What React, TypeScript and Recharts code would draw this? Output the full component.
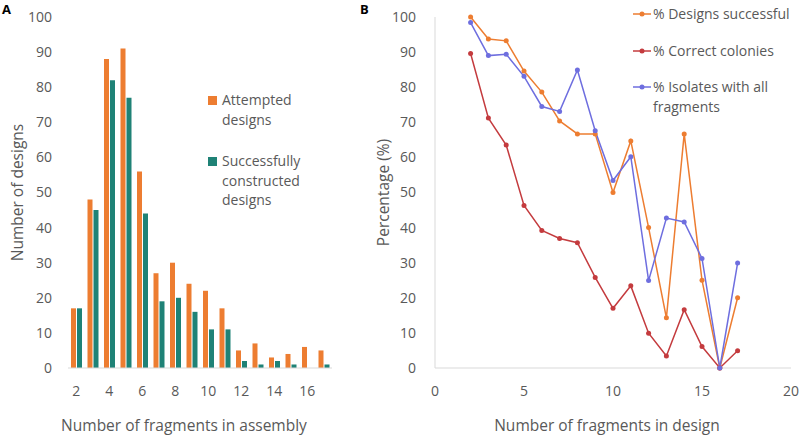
import React from 'react';
import { BarChart, Bar, XAxis, YAxis, LineChart, Line, Legend, Label } from 'recharts';

const fragmentCounts = [2, 3, 4, 5, 6, 7, 8, 9, 10, 11, 12, 13, 14, 15, 16, 17];
const attemptedDesigns = [17, 48, 88, 91, 56, 27, 30, 24, 22, 17, 5, 7, 3, 4, 6, 5];
const successfulDesigns = [17, 45, 82, 77, 44, 19, 20, 16, 11, 11, 2, 1, 2, 1, 0, 1];

const pctDesignsSuccessful = [100, 93.75, 93.2, 84.6, 78.6, 70.4, 66.7, 66.7, 50, 64.7, 40, 14.3, 66.7, 25, 0, 20];
const pctCorrectColonies = [89.6, 71.2, 63.5, 46.3, 39.2, 36.9, 35.7, 25.8, 17, 23.4, 9.9, 3.4, 16.6, 6.1, 0, 4.9];
const pctIsolatesAll = [98.4, 89, 89.4, 83.1, 74.5, 73.1, 84.9, 67.6, 53.4, 60.2, 24.9, 42.7, 41.6, 31.2, 0, 29.9];

const barSeriesNames = ['Attempted designs', 'Successfully constructed designs'];
const lineSeriesNames = ['% Designs successful', '% Correct colonies', '% Isolates with all fragments'];

const countTicks = [0, 10, 20, 30, 40, 50, 60, 70, 80, 90, 100];
const percentTicks = [0, 10, 20, 30, 40, 50, 60, 70, 80, 90, 100];
const designTicks = [0, 5, 10, 15, 20];

const barData = fragmentCounts.map((n, i) => ({
  n,
  attempted: attemptedDesigns[i],
  successful: successfulDesigns[i],
}));

const lineData = fragmentCounts.map((n, i) => ({
  n,
  designs: pctDesignsSuccessful[i],
  colonies: pctCorrectColonies[i],
  isolates: pctIsolatesAll[i],
}));

const TEXT = '#595959';
const GRID = '#D9D9D9';
const ORANGE = '#ED7D31';
const TEAL = '#1F8276';
const RED = '#C43B3E';
const BLUE = '#6E6EDF';
const FONT = '"Open Sans", sans-serif';

const yTitle = (text: string, cx: number) => (props: any) => {
  const vb = props.viewBox || {};
  const cy = vb.y + vb.height / 2;
  return (
    <text
      x={cx}
      y={cy}
      transform={`rotate(-90, ${cx}, ${cy})`}
      textAnchor="middle"
      dominantBaseline="central"
      fill={TEXT}
      fontSize={15.5}
      fontFamily={FONT}
    >
      {text}
    </text>
  );
};

const xTitle = (text: string, cy: number, dx: number) => (props: any) => {
  const vb = props.viewBox || {};
  const cx = vb.x + vb.width / 2 + dx;
  return (
    <text x={cx} y={cy} textAnchor="middle" dominantBaseline="central" fill={TEXT} fontSize={15.5} fontFamily={FONT}>
      {text}
    </text>
  );
};

const ordered = (payload: any[], names: string[]) =>
  [...payload].sort((a, b) => names.indexOf(a.value) - names.indexOf(b.value));

const BarLegend = (props: any) => {
  const payload = ordered(props.payload || [], barSeriesNames);
  return (
    <div style={{ fontFamily: FONT, fontSize: 14, color: TEXT }}>
      {payload.map((p: any, i: number) => (
        <div key={i} style={{ display: 'flex', alignItems: 'flex-start', marginBottom: 22 }}>
          <span
            style={{ width: 9, height: 9, background: p.color, marginTop: 6, marginRight: 5, flex: 'none' }}
          />
          <span style={{ lineHeight: '19.5px', width: 100 }}>{p.value}</span>
        </div>
      ))}
    </div>
  );
};

const LineLegend = (props: any) => {
  const payload = ordered(props.payload || [], lineSeriesNames);
  return (
    <div style={{ fontFamily: FONT, fontSize: 14, color: TEXT }}>
      {payload.map((p: any, i: number) => (
        <div key={i} style={{ display: 'flex', alignItems: 'flex-start', marginBottom: 17 }}>
          <svg width={19} height={19.5} style={{ flex: 'none', marginRight: 1 }}>
            <line x1={0} y1={10} x2={18} y2={10} stroke={p.color} strokeWidth={1.5} />
            <circle cx={9} cy={10} r={2.5} fill={p.color} />
          </svg>
          <span style={{ lineHeight: '19.5px', width: 140 }}>{p.value}</span>
        </div>
      ))}
    </div>
  );
};

export default function App() {
  return (
    <div
      style={{
        position: 'fixed',
        left: 0,
        top: 0,
        width: 799,
        height: 437,
        overflow: 'hidden',
        background: '#fff',
        fontFamily: FONT,
      }}
    >
      <div style={{ position: 'absolute', left: 2, top: 0, fontWeight: 700, fontSize: 13, color: '#000' }}>A</div>
      <div style={{ position: 'absolute', left: 360, top: 0, fontWeight: 700, fontSize: 13, color: '#000' }}>B</div>

      <div style={{ position: 'absolute', left: 0, top: 0 }}>
        <BarChart
          width={340}
          height={437}
          data={barData}
          margin={{ top: 17, right: 8, bottom: 39, left: 1 }}
          barSize={5}
          barGap={1}
        >
          <XAxis
            dataKey="n"
            interval={1}
            height={30}
            tickLine={false}
            tickSize={0}
            tickMargin={18}
            axisLine={{ stroke: GRID }}
            tick={{ fill: TEXT, fontSize: 14, fontFamily: FONT }}
          >
            <Label content={xTitle('Number of fragments in assembly', 425, -16)} />
          </XAxis>
          <YAxis
            width={67}
            domain={[0, 100]}
            ticks={countTicks}
            interval={0}
            tickLine={false}
            axisLine={false}
            tickSize={0}
            tickMargin={16}
            tick={{ fill: TEXT, fontSize: 14, fontFamily: FONT }}
          >
            <Label content={yTitle('Number of designs', 17)} />
          </YAxis>
          <Legend
            layout="vertical"
            align="center"
            verticalAlign="middle"
            wrapperStyle={{ left: 208, top: 90, width: 125 }}
            content={<BarLegend />}
          />
          <Bar dataKey="attempted" name={barSeriesNames[0]} fill={ORANGE} isAnimationActive={false} />
          <Bar dataKey="successful" name={barSeriesNames[1]} fill={TEAL} isAnimationActive={false} />
        </BarChart>
      </div>

      <div style={{ position: 'absolute', left: 360, top: 0 }}>
        <LineChart
          width={439}
          height={437}
          data={lineData}
          margin={{ top: 17, right: 8, bottom: 39, left: 0 }}
        >
          <XAxis
            dataKey="n"
            type="number"
            domain={[0, 20]}
            ticks={designTicks}
            interval={0}
            height={30}
            tickLine={false}
            tickSize={0}
            tickMargin={18}
            axisLine={{ stroke: GRID }}
            tick={{ fill: TEXT, fontSize: 14, fontFamily: FONT }}
          >
            <Label content={xTitle('Number of fragments in design', 425, -6)} />
          </XAxis>
          <YAxis
            width={75}
            domain={[0, 100]}
            ticks={percentTicks}
            interval={0}
            tickLine={false}
            axisLine={{ stroke: GRID }}
            tickSize={0}
            tickMargin={19}
            tick={{ fill: TEXT, fontSize: 14, fontFamily: FONT }}
          >
            <Label content={yTitle('Percentage (%)', 23)} />
          </YAxis>
          <Legend
            layout="vertical"
            align="center"
            verticalAlign="middle"
            wrapperStyle={{ left: 273, top: 4, width: 166 }}
            content={<LineLegend />}
          />
          <Line
            type="linear"
            dataKey="designs"
            name={lineSeriesNames[0]}
            stroke={ORANGE}
            strokeWidth={1.5}
            dot={{ r: 2.5, fill: ORANGE, stroke: ORANGE, strokeWidth: 0 }}
            activeDot={false}
            isAnimationActive={false}
          />
          <Line
            type="linear"
            dataKey="colonies"
            name={lineSeriesNames[1]}
            stroke={RED}
            strokeWidth={1.5}
            dot={{ r: 2.5, fill: RED, stroke: RED, strokeWidth: 0 }}
            activeDot={false}
            isAnimationActive={false}
          />
          <Line
            type="linear"
            dataKey="isolates"
            name={lineSeriesNames[2]}
            stroke={BLUE}
            strokeWidth={1.5}
            dot={{ r: 2.5, fill: BLUE, stroke: BLUE, strokeWidth: 0 }}
            activeDot={false}
            isAnimationActive={false}
          />
        </LineChart>
      </div>
    </div>
  );
}
